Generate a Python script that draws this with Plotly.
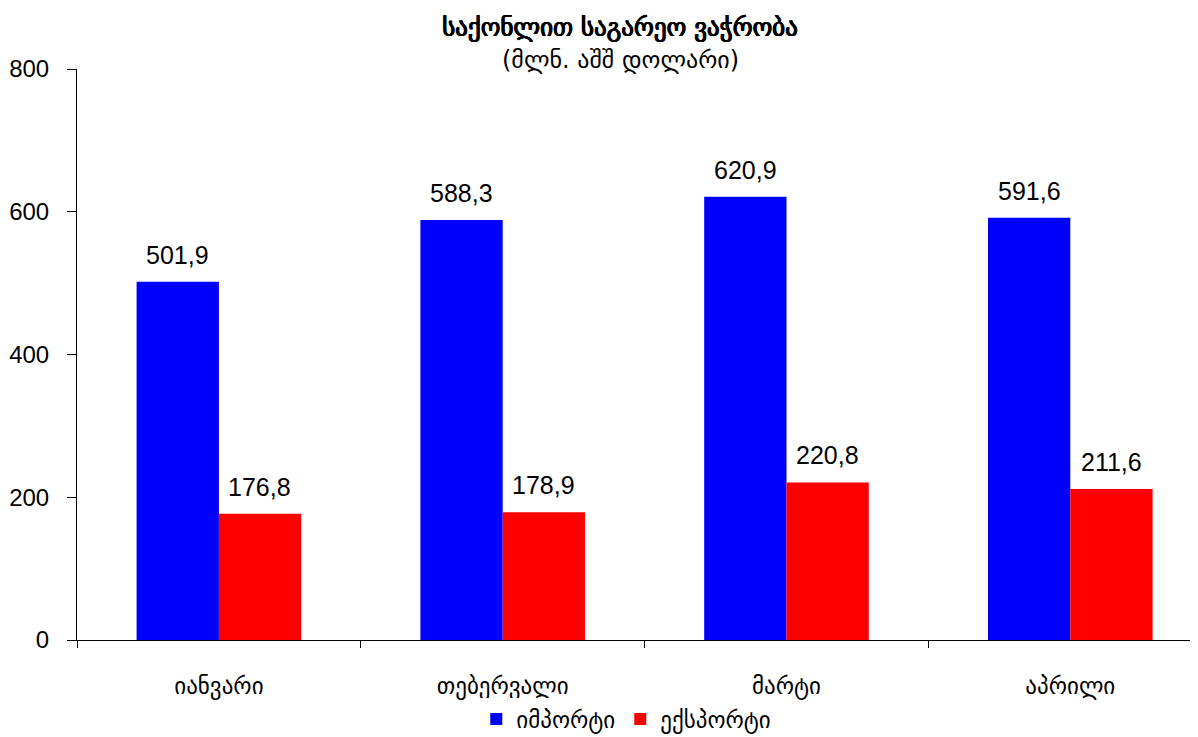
import plotly.graph_objects as go

categories = ["იანვარი", "თებერვალი", "მარტი", "აპრილი"]
imports = [501.9, 588.3, 620.9, 591.6]
exports = [176.8, 178.9, 220.8, 211.6]
series_names = ["იმპორტი", "ექსპორტი"]
title_text = "საქონლით საგარეო ვაჭრობა"
subtitle_text = "(მლნ. აშშ დოლარი)"
y_ticks = [0, 200, 400, 600, 800]

FONT = "Liberation Sans, Arial, sans-serif"
GEO = "DejaVu Sans, sans-serif"

# page body has an 8px margin, so the figure is sized to fill the rest
W, H = 1190, 729

fig = go.Figure()
fig.add_trace(go.Bar(
    x=categories, y=imports, name=series_names[0],
    marker=dict(color="#0000FF", line=dict(width=0)),
))
fig.add_trace(go.Bar(
    x=categories, y=exports, name=series_names[1],
    marker=dict(color="#FF0000", line=dict(width=0)),
))

annotations = []
for series, shift in ((imports, -41), (exports, 41)):
    for cat, val in zip(categories, series):
        annotations.append(dict(
            x=cat, y=val, xref="x", yref="y",
            text=f"{val:.1f}".replace(".", ","),
            showarrow=False, xshift=shift, yshift=11,
            yanchor="bottom", xanchor="center",
            font=dict(size=25, color="black", family=FONT),
        ))

annotations.append(dict(
    x=0.485, y=1.0158, xref="paper", yref="paper",
    text=subtitle_text, showarrow=False,
    xanchor="center", yanchor="middle",
    font=dict(size=24, color="black", family=GEO),
))

fig.update_layout(
    width=W, height=H,
    barmode="group", bargap=0.42, bargroupgap=0,
    plot_bgcolor="white", paper_bgcolor="white",
    margin=dict(l=69, r=0, t=61, b=97, autoexpand=False),
    font=dict(family=FONT, size=20, color="black"),
    title=dict(
        text=title_text,
        x=612 / W, xanchor="center", xref="container",
        y=1 - 19 / H, yanchor="middle", yref="container",
        font=dict(size=25, color="black", family=GEO,
                  shadow="0.6px 0 0 black, -0.6px 0 0 black, 0 0.4px 0 black"),
    ),
    annotations=annotations,
    showlegend=True,
    legend=dict(
        orientation="h", x=0.49, xanchor="center",
        y=1 - 711 / H, yanchor="middle", yref="container",
        font=dict(size=23, family=GEO),
        itemwidth=30, tracegroupgap=0, traceorder="normal",
    ),
    xaxis=dict(
        range=[-0.5, 3.45], automargin=False,
        showline=True, linecolor="black", linewidth=1,
        ticks="outside", tickson="boundaries", ticklen=7, tickcolor="black",
        showgrid=False, ticklabelstandoff=25,
        tickfont=dict(size=23, family=GEO),
    ),
    yaxis=dict(
        range=[0, 800], tickvals=y_ticks, automargin=False,
        showline=True, linecolor="black", linewidth=1,
        ticks="outside", ticklen=9, tickcolor="black",
        showgrid=False, zeroline=False, ticklabelstandoff=13,
        tickfont=dict(size=24, family=FONT),
    ),
)

fig.write_html("out.html")
